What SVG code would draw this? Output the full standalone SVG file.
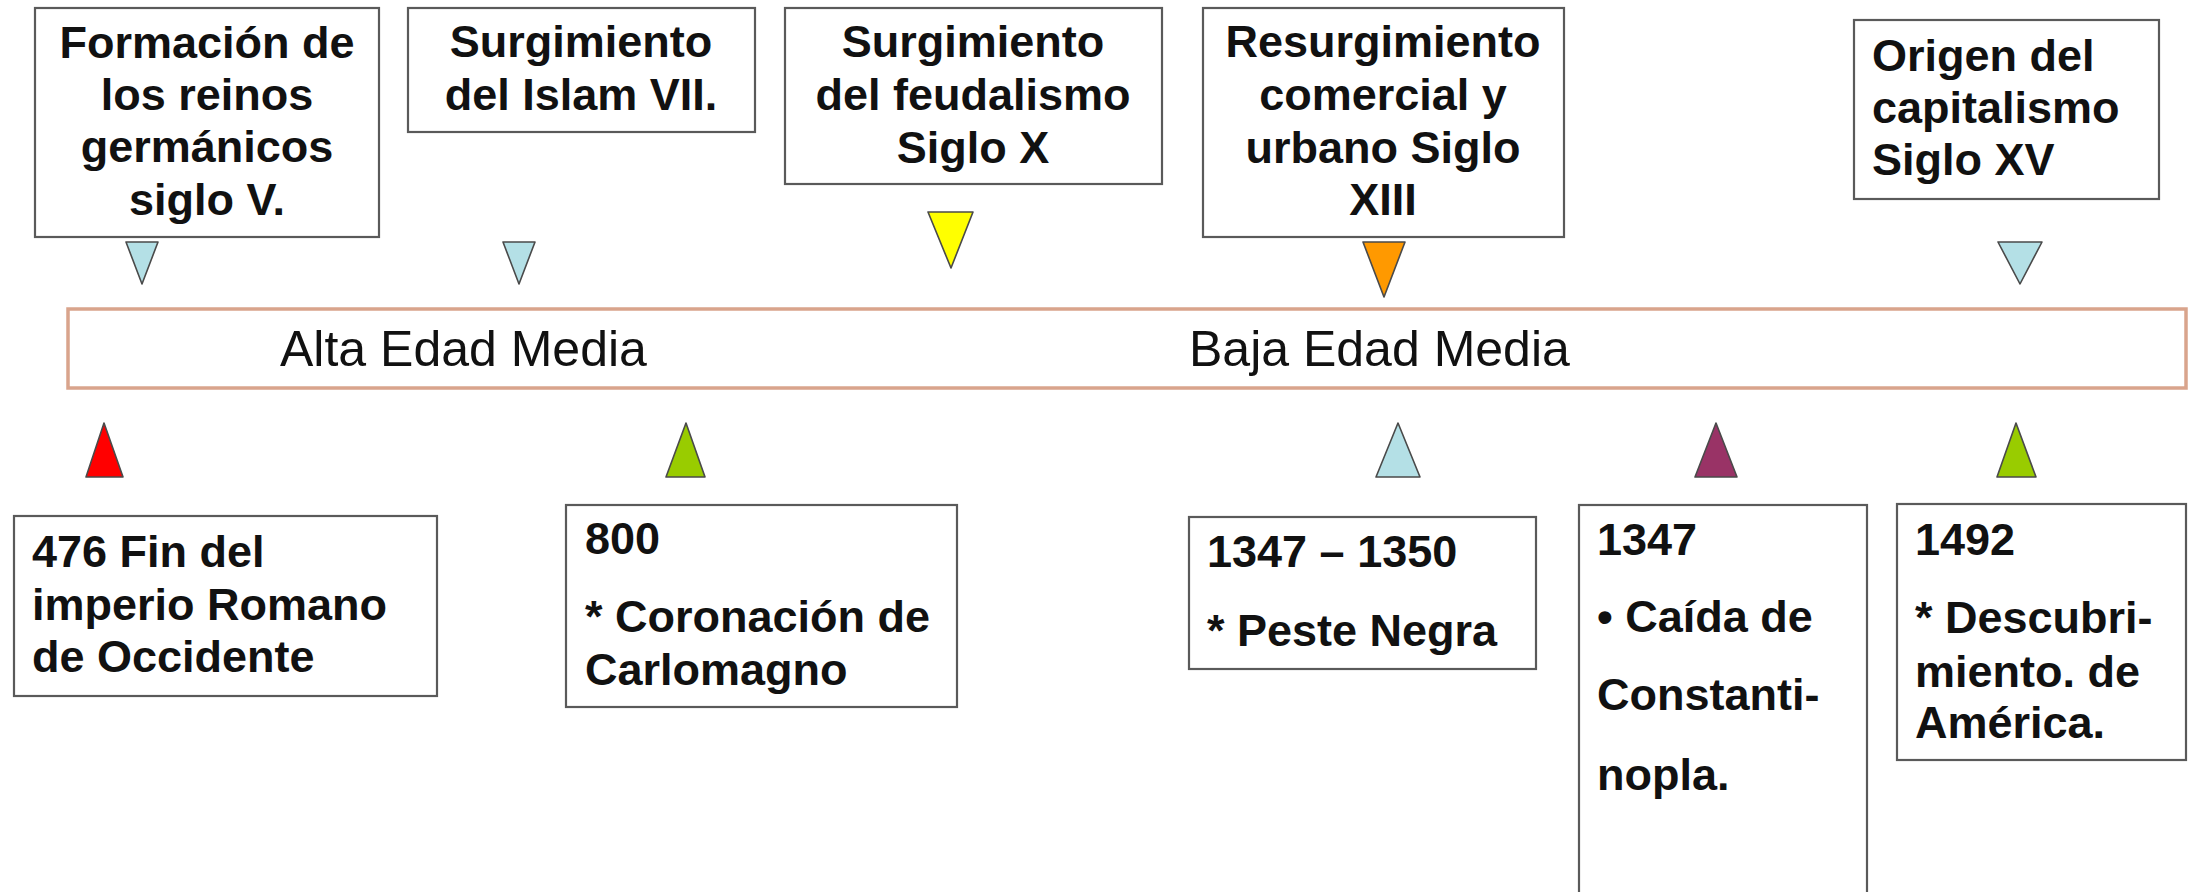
<svg xmlns="http://www.w3.org/2000/svg" width="2193" height="892" viewBox="0 0 2193 892">
<style>
.box{fill:#fff;stroke:#5a5a5a;stroke-width:2.2}
.t{font-family:"Liberation Sans",Arial,sans-serif;font-weight:bold;font-size:45px;fill:#111}
.c{text-anchor:middle}
.bar{fill:#fff;stroke:#d9a48c;stroke-width:3.5}
.era{font-family:"Liberation Sans",Arial,sans-serif;font-size:50px;fill:#111}
.tri{stroke:#4a4a4a;stroke-width:1.6;stroke-linejoin:round}
.lb{fill:#b4e0e6}
.ye{fill:#ffff00}
.or{fill:#ff9900}
.rd{fill:#ff0000}
.gr{fill:#99cc00}
.pu{fill:#993366}
</style>
<rect width="2193" height="892" fill="#fff"/>
<g id="timeline">
<rect class="bar" x="68" y="309" width="2118" height="79"/>
<text class="era" x="280" y="366">Alta Edad Media</text>
<text class="era" x="1189" y="366">Baja Edad Media</text>
</g>
<g id="top1">
<rect class="box" x="35" y="8" width="344" height="229"/>
<text class="t c" x="207" y="58">Formación de</text>
<text class="t c" x="207" y="110">los reinos</text>
<text class="t c" x="207" y="162">germánicos</text>
<text class="t c" x="207" y="215">siglo V.</text>
</g>
<g id="top2">
<rect class="box" x="408" y="8" width="347" height="124"/>
<text class="t c" x="581" y="57">Surgimiento</text>
<text class="t c" x="581" y="110">del Islam VII.</text>
</g>
<g id="top3">
<rect class="box" x="785" y="8" width="377" height="176"/>
<text class="t c" x="973" y="57">Surgimiento</text>
<text class="t c" x="973" y="110">del feudalismo</text>
<text class="t c" x="973" y="163">Siglo X</text>
</g>
<g id="top4">
<rect class="box" x="1203" y="8" width="361" height="229"/>
<text class="t c" x="1383" y="57">Resurgimiento</text>
<text class="t c" x="1383" y="110">comercial y</text>
<text class="t c" x="1383" y="163">urbano Siglo</text>
<text class="t c" x="1383" y="215">XIII</text>
</g>
<g id="top5">
<rect class="box" x="1854" y="20" width="305" height="179"/>
<text class="t" x="1872" y="71">Origen del</text>
<text class="t" x="1872" y="123">capitalismo</text>
<text class="t" x="1872" y="175">Siglo XV</text>
</g>
<g id="bot1">
<rect class="box" x="14" y="516" width="423" height="180"/>
<text class="t" x="32" y="567">476 Fin del</text>
<text class="t" x="32" y="620">imperio Romano</text>
<text class="t" x="32" y="672">de Occidente</text>
</g>
<g id="bot2">
<rect class="box" x="566" y="505" width="391" height="202"/>
<text class="t" x="585" y="554">800</text>
<text class="t" x="585" y="632">* Coronación de</text>
<text class="t" x="585" y="685">Carlomagno</text>
</g>
<g id="bot3">
<rect class="box" x="1189" y="517" width="347" height="152"/>
<text class="t" x="1207" y="567">1347 – 1350</text>
<text class="t" x="1207" y="646">* Peste Negra</text>
</g>
<g id="bot4">
<rect class="box" x="1579" y="505" width="288" height="400"/>
<text class="t" x="1597" y="555">1347</text>
<text class="t" x="1597" y="632">• Caída de</text>
<text class="t" x="1597" y="710">Constanti-</text>
<text class="t" x="1597" y="790">nopla.</text>
</g>
<g id="bot5">
<rect class="box" x="1897" y="504" width="289" height="256"/>
<text class="t" x="1915" y="555">1492</text>
<text class="t" x="1915" y="633">* Descubri-</text>
<text class="t" x="1915" y="687">miento. de</text>
<text class="t" x="1915" y="738">América.</text>
</g>
<g id="connectors">
<polygon class="tri lb" points="126,242 158,242 142,284"/>
<polygon class="tri lb" points="503,242 535,242 519,284"/>
<polygon class="tri ye" points="928,212 973,212 951,268"/>
<polygon class="tri or" points="1363,242 1405,242 1384,297"/>
<polygon class="tri lb" points="1998,242 2042,242 2020,284"/>
<polygon class="tri rd" points="104,423 86,477 123,477"/>
<polygon class="tri gr" points="686,423 666,477 705,477"/>
<polygon class="tri lb" points="1398,423 1376,477 1420,477"/>
<polygon class="tri pu" points="1716,423 1695,477 1737,477"/>
<polygon class="tri gr" points="2016,423 1997,477 2036,477"/>
</g>
</svg>
